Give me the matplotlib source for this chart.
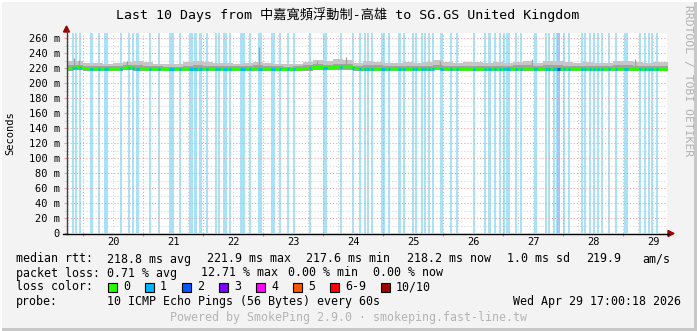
import numpy as np
import matplotlib
matplotlib.use("Agg")
import matplotlib.pyplot as plt
from matplotlib.patches import Rectangle, Polygon
from matplotlib.lines import Line2D

plt.rcParams['font.family'] = ['DejaVu Sans Mono', 'Noto Sans CJK TC']

# ---------------- data ----------------
title = "Last 10 Days from 中嘉寬頻浮動制-高雄 to SG.GS United Kingdom"
day_labels = ["20", "21", "22", "23", "24", "25", "26", "27", "28", "29"]
day_noons = [12, 36, 60, 84, 108, 132, 156, 180, 204, 228]   # hours after Apr 20 00:00

# samples every 4 h (hours after Apr 20 00:00)
hours = [-6, -2, 2, 6, 10, 14, 18, 22, 26, 30, 34, 38, 42, 46, 50, 54, 58, 62, 66, 70,
         74, 78, 82, 86, 90, 94, 98, 102, 106, 110, 114, 118, 122, 126, 130, 134, 138, 142, 146, 150,
         154, 158, 162, 166, 170, 174, 178, 182, 186, 190, 194, 198, 202, 206, 210, 214, 218, 222, 226, 230, 234]
median_ms = [219.0, 220.5, 218.8, 218.6, 218.5, 218.7, 220.5, 219.0, 218.6, 218.5, 218.4, 218.5, 218.6, 218.7, 218.5, 218.6, 218.4, 218.5, 218.7, 218.9,
             218.6, 218.3, 218.2, 218.4, 219.5, 221.0, 220.0, 221.5, 221.9, 219.0, 218.6, 218.5, 218.7, 218.6, 218.4, 218.6, 218.8, 219.6, 218.6, 218.5,
             218.4, 218.5, 218.6, 218.5, 218.4, 218.6, 218.8, 218.5, 218.7, 218.4, 218.6, 218.5, 218.6, 218.4, 218.5, 218.7, 218.6, 218.3, 218.2, 218.2, 218.2]
smoke_hi = [229.5, 229.5, 226.5, 226.5, 226, 226.5, 227.5, 229, 227.5, 225.5, 225.5, 225, 227.5, 230, 227.5, 226.5, 226.5, 226, 226.5, 227.5,
            226.5, 226, 225.5, 226, 227.5, 230.5, 229.5, 231.5, 230.5, 226.5, 229.5, 228.5, 227, 226.5, 227.5, 226.5, 227.5, 230.5, 227.5, 227,
            227.5, 227.5, 226.5, 227.5, 227, 228.5, 229.5, 226.5, 230, 229.5, 227.5, 227, 227.5, 226.5, 227, 229, 229.5, 227.5, 227, 227.5, 227.5]
smoke_mid = [223.5, 224.5, 223, 222.5, 222.5, 223, 224, 224, 223, 222.5, 222, 222, 223, 224, 223, 222.5, 222.5, 222.5, 223, 223.5,
             222.5, 222.5, 222, 222.5, 223.5, 225, 224, 225.5, 225.5, 223, 223.5, 223.5, 223, 222.5, 223, 222.5, 223, 224.5, 223, 222.5,
             223, 223, 222.5, 223, 222.5, 223.5, 224, 222.5, 224, 224, 223, 222.5, 223, 222.5, 222.5, 223.5, 224, 223, 222.5, 222.5, 222.5]
smoke_lo = [216.5, 217, 216.5, 216.5, 216.5, 216.5, 217, 216.5, 216.5, 216.5, 216.5, 216.5, 216.5, 216.5, 216.5, 216.5, 216.5, 216.5, 216.5, 216.5,
            216.5, 216, 216, 216, 216.5, 217, 217, 217.5, 217.5, 216.5, 216.5, 216.5, 216.5, 216.5, 216, 216.5, 216.5, 217, 216.5, 216.5,
            216, 216.5, 216.5, 216.5, 216, 216.5, 216.5, 216.5, 216.5, 216, 216.5, 216.5, 216.5, 216, 216.5, 216.5, 216.5, 216, 216, 216, 216]

spike_hours = [-3.7, -1.7, 17.5, 70.3, 93.5, 105.0, 142.5, 179.5, 220.5]
spike_tops = [234, 231, 230, 248, 229, 235, 229, 232, 232]

# packet-loss events (start hour of a 24-min step) and loss level (out of 10)
loss_hours = [-4.5, -3.3, -1.7, 2.7, 3.1, 5.9, 8.3, 9.1, 14.7, 17.9, 19.5, 21.1, 21.5, 26.3, 29.9, 34.3, 34.7, 35.1, 35.5, 38.3,
              42.3, 42.7, 43.1, 44.3, 44.7, 46.3, 46.7, 49.1, 52.7, 53.9, 55.9, 56.7, 58.3, 62.7, 63.1, 63.9, 66.3, 69.9, 70.3, 70.7,
              75.1, 75.9, 78.3, 81.5, 83.9, 90.3, 95.9, 96.3, 96.7, 102.7, 107.5, 110.3, 112.3, 113.5, 115.1, 119.1, 119.5, 119.9, 121.9, 125.9,
              126.3, 127.9, 131.5, 132.7, 135.1, 136.3, 137.9, 139.5, 142.7, 143.1, 146.7, 149.1, 155.9, 160.3, 161.9, 162.3, 164.3, 166.3, 167.9, 169.1,
              169.5, 169.9, 172.7, 174.7, 180.3, 180.7, 184.7, 185.9, 187.9, 189.1, 189.5, 189.9, 191.9, 193.9, 199.1, 200.3, 202.3, 203.9, 205.5, 207.1,
              209.9, 212.7, 216.3, 216.7, 217.1, 222.3, 224.3, 225.9, 227.1, 229.1]
loss_level = [1] * 90 + [2, 2] + [1] * 18

legend_loss_labels = ["0", "1", "2", "3", "4", "5", "6-9", "10/10"]
legend_loss_colors = ["#26ff00", "#00b8ff", "#0059ff", "#7e00ff", "#ff00ff", "#ff5500", "#ff0000", "#a10000"]

# ---------------- figure ----------------
W, H = 697, 331
fig = plt.figure(figsize=(W / 100, H / 100), dpi=100, facecolor='#f3f3f3')

def fx(x):
    return x / W

def fy(y):
    return 1 - y / H

ax = fig.add_axes([fx(67), fy(233), 600 / W, 200 / H])
ax.set_facecolor('white')
ax.set_xlim(-6.5, 233.5)
ax.set_ylim(0, 266.67)
for s in ax.spines.values():
    s.set_visible(False)

ax.set_xticks(list(range(0, 240, 24)))
ax.set_xticklabels([])
ax.set_xticks(list(range(-6, 234, 6)), minor=True)
ax.set_yticks(list(range(0, 261, 20)))
ax.set_yticklabels(["0"] + [f"{v} m" for v in range(20, 261, 20)])
ax.set_yticks(list(range(10, 261, 20)), minor=True)

ax.set_axisbelow(True)
ax.grid(which='major', color='#eaa0a0', linestyle=(0, (1, 2)), linewidth=0.75)
ax.grid(which='minor', color='#d2d2d2', linestyle=(0, (1, 2)), linewidth=0.75)
ax.tick_params(axis='y', which='major', length=2, color='#eaa0a0', pad=3, labelsize=7.5)
ax.tick_params(axis='y', which='minor', length=2, color='#d2d2d2')
ax.tick_params(axis='x', which='major', length=2.5, color='#e08080')
ax.tick_params(axis='x', which='minor', length=0)

for i, d in enumerate(day_labels):
    ax.text(day_noons[i], -0.045, d, transform=ax.get_xaxis_transform(),
            ha='center', va='center', fontsize=7.5)

# loss background bars
bar_colors = ['#a6e2f8' if lv == 1 else '#a8c2fb' for lv in loss_level]
ax.bar(loss_hours, 300, width=0.8, align='edge', color=bar_colors, linewidth=0,
       antialiased=False, zorder=0.4)

# smoke
ax.fill_between(hours, smoke_lo, smoke_hi, step='mid', color='#c6c6c6', linewidth=0, zorder=2)
ax.fill_between(hours, smoke_lo, smoke_mid, step='mid', color='#a2a2a2', linewidth=0, zorder=2.1)
ax.vlines(spike_hours, np.interp(spike_hours, hours, median_ms), spike_tops,
          color='#a0a0a0', linewidth=0.9, zorder=2.2)

# median line
ax.plot(hours, median_ms, color='#26ff00', linewidth=2.2, zorder=4)
for h, lv in zip(loss_hours, loss_level):
    m = np.interp(h + 0.4, hours, median_ms)
    ax.plot([h, h + 0.8], [m, m], color='#00b8ff' if lv == 1 else '#0059ff',
            linewidth=2.2, solid_capstyle='butt', zorder=5)

# axis lines and arrows
fig.add_artist(Line2D([fx(66.5), fx(66.5)], [fy(234), fy(30)], color='#404040', linewidth=1))
fig.add_artist(Line2D([fx(63), fx(669)], [fy(233.5), fy(233.5)], color='#000000', linewidth=1))
fig.add_artist(Polygon([[fx(63.5), fy(32)], [fx(69.5), fy(32)], [fx(66.5), fy(26)]],
                       closed=True, color='#a00000', transform=fig.transFigure))
fig.add_artist(Polygon([[fx(668), fy(230.5)], [fx(668), fy(236.5)], [fx(674), fy(233.5)]],
                       closed=True, color='#a00000', transform=fig.transFigure))

# titles
fig.text(fx(348), fy(15), title, ha='center', va='center', fontsize=9.5)
fig.text(fx(10), fy(133), "Seconds", rotation=90, ha='center', va='center', fontsize=7.5)
fig.text(fx(688), fy(81), "RRDTOOL / TOBI OETIKER", rotation=270, ha='center', va='center',
         fontsize=8.2, color='#b0b0b0')

FS = 8.35

def T(x, y, s, **kw):
    fig.text(fx(x), fy(y), s, ha='left', va='center', fontsize=FS, **kw)

T(16, 259, "median rtt:")
T(107, 259, "218.8 ms avg")
T(207, 259, "221.9 ms max")
T(306, 259, "217.6 ms min")
T(407, 259, "218.2 ms now")
T(507, 259, "1.0 ms sd")
T(586, 259, "219.9")
T(642, 259, "am/s")

T(16, 273, "packet loss:")
T(107, 273, "0.71 % avg")
T(201, 273, "12.71 % max")
T(288, 273, "0.00 % min")
T(373, 273, "0.00 % now")

T(16, 287, "loss color:")
box_x = [108, 145, 182, 219, 256, 293, 330, 381]
for bx, lab, col in zip(box_x, legend_loss_labels, legend_loss_colors):
    fig.add_artist(Rectangle((fx(bx), fy(292)), 9 / W, 9 / H, facecolor=col, edgecolor='black',
                             linewidth=0.8, transform=fig.transFigure))
    T(bx + 15, 287, lab)

T(16, 301, "probe:")
T(107, 301, "10 ICMP Echo Pings (56 Bytes) every 60s")
T(513, 301, "Wed Apr 29 17:00:18 2026")

fig.text(fx(349), fy(318), "Powered by SmokePing 2.9.0 · smokeping.fast-line.tw", ha='center',
         va='center', fontsize=FS, color='#b4b4b4')

# frame
fig.add_artist(Rectangle((fx(694), 0), 3 / W, 1, facecolor='#c8c8c8', edgecolor='none',
                         transform=fig.transFigure))
fig.add_artist(Rectangle((0, 0), 1, 3 / H, facecolor='#c8c8c8', edgecolor='none',
                         transform=fig.transFigure))
fig.add_artist(Rectangle((0, fy(2)), 1, 2 / H, facecolor='#ffffff', edgecolor='none',
                         transform=fig.transFigure))
fig.add_artist(Rectangle((0, 0), 2 / W, 1, facecolor='#ffffff', edgecolor='none',
                         transform=fig.transFigure))

fig.savefig("out.png", dpi=100, facecolor=fig.get_facecolor())
